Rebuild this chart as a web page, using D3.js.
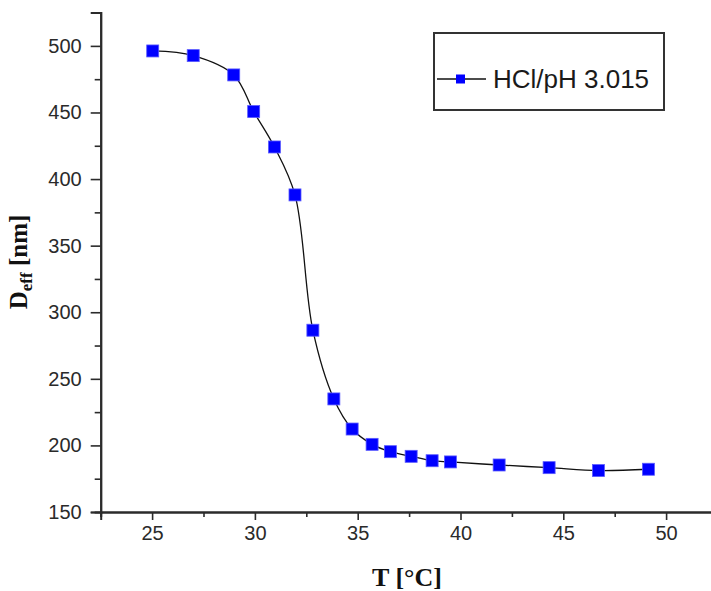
<!DOCTYPE html>
<html>
<head>
<meta charset="utf-8">
<script src="https://cdn.jsdelivr.net/npm/d3@7"></script>
<style>
  html, body { margin: 0; padding: 0; background: #fff; }
  svg { display: block; }
</style>
</head>
<body>
<svg id="chart" width="711" height="591"></svg>
<script>
// Effective diameter vs temperature (HCl, pH 3.015)
const temperature = [25.03, 27.0, 28.97, 29.94, 30.95, 31.95, 32.82, 33.84, 34.73,
                     35.7, 36.59, 37.6, 38.62, 39.51, 41.88, 44.31, 46.71, 49.14];
const diameter = [496.2, 492.7, 478.2, 450.7, 424.1, 388.1, 286.5, 234.9, 212.3,
                  200.8, 195.3, 191.8, 188.5, 187.6, 185.3, 183.3, 181.1, 182.1];
const xTicks = [25, 30, 35, 40, 45, 50];
const yTicks = [150, 200, 250, 300, 350, 400, 450, 500];
const seriesName = "HCl/pH 3.015";

const svg = d3.select("#chart");
const axisColor = "#2b2b2b";

const x = d3.scaleLinear().domain([22.5, 52.5]).range([100.7, 717.5]);
const y = d3.scaleLinear().domain([150, 525]).range([512, 12.6]);

const points = temperature.map((t, i) => ({ t, d: diameter[i] }));

// curve through the points
const line = d3.line()
  .x(p => x(p.t))
  .y(p => y(p.d))
  .curve(d3.curveCatmullRom.alpha(0.5));

svg.append("path")
  .datum(points)
  .attr("d", line)
  .attr("fill", "none")
  .attr("stroke", "#111")
  .attr("stroke-width", 1.3);

// square markers
svg.append("g").selectAll("rect")
  .data(points)
  .join("rect")
  .attr("x", p => x(p.t) - 6)
  .attr("y", p => y(p.d) - 6)
  .attr("width", 12)
  .attr("height", 12)
  .attr("fill", "#0000ff")
  .attr("stroke", "#5a5aff")
  .attr("stroke-width", 0.8);

// axes
const fontTick = "'Liberation Sans', Arial, sans-serif";

const xMinor = d3.range(22.5, 52.6, 5);
const yMinor = d3.range(175, 526, 50);

const xAxis = svg.append("g").attr("transform", `translate(0,${y(150)})`);
xAxis.call(d3.axisBottom(x).tickValues(xTicks).tickSize(8).tickPadding(6).tickFormat(d3.format("d")));
xAxis.append("g").call(d3.axisBottom(x).tickValues(xMinor).tickSize(5).tickFormat(""));

const yAxis = svg.append("g").attr("transform", `translate(${x(22.5)},0)`);
yAxis.call(d3.axisLeft(y).tickValues(yTicks).tickSize(10).tickPadding(9).tickFormat(d3.format("d")));
yAxis.append("g").call(d3.axisLeft(y).tickValues(yMinor).tickSize(6).tickFormat(""));

svg.selectAll(".domain").attr("stroke", axisColor).attr("stroke-width", 2);
svg.selectAll(".tick line").attr("stroke", axisColor).attr("stroke-width", 1.6);
svg.selectAll(".tick text")
  .attr("fill", "#2a2a2a")
  .style("font-family", fontTick)
  .style("font-size", "20px");

// axis titles
const serif = "'Liberation Serif', 'Times New Roman', serif";
svg.append("text")
  .attr("x", 407)
  .attr("y", 586)
  .attr("text-anchor", "middle")
  .style("font-family", serif)
  .style("font-weight", "bold")
  .style("font-size", "26px")
  .attr("fill", "#111")
  .text("T [°C]");

const yTitle = svg.append("text")
  .attr("transform", "translate(27,262) rotate(-90)")
  .attr("text-anchor", "middle")
  .style("font-family", serif)
  .style("font-weight", "bold")
  .style("font-size", "25px")
  .attr("fill", "#111");
yTitle.append("tspan").text("D");
yTitle.append("tspan").attr("dy", 5).style("font-size", "17px").text("eff");
yTitle.append("tspan").attr("dy", -5).text(" [nm]");

// legend
const legend = svg.append("g");
legend.append("rect")
  .attr("x", 434).attr("y", 33)
  .attr("width", 230).attr("height", 77)
  .attr("fill", "#fff")
  .attr("stroke", "#333")
  .attr("stroke-width", 2);
legend.append("line")
  .attr("x1", 437).attr("x2", 486)
  .attr("y1", 79).attr("y2", 79)
  .attr("stroke", "#111").attr("stroke-width", 1.3);
legend.append("rect")
  .attr("x", 456).attr("y", 74.5)
  .attr("width", 9).attr("height", 9)
  .attr("fill", "#0000ff");
legend.append("text")
  .attr("x", 493)
  .attr("y", 87.5)
  .style("font-family", fontTick)
  .style("font-size", "26px")
  .attr("fill", "#1a1a1a")
  .text(seriesName);
</script>
</body>
</html>
